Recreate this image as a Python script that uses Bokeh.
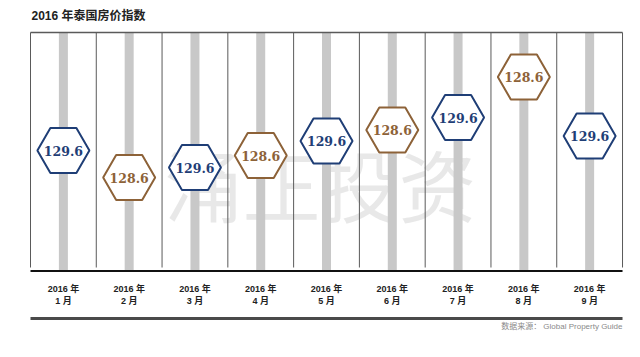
from bokeh.plotting import figure
from bokeh.models import Range1d, ColumnDataSource
from bokeh.core.properties import value
from bokeh.embed import file_html
from bokeh.resources import INLINE

# ---- data ----
title_text = "2016 年泰国房价指数"
year_labels = ["2016 年"] * 9
month_labels = ["1 月", "2 月", "3 月", "4 月", "5 月", "6 月", "7 月", "8 月", "9 月"]
month_num = [1, 2, 3, 4, 5, 6, 7, 8, 9]
index_level = [128.40, 127.86, 128.06, 128.30, 128.59, 128.81, 129.06, 129.87, 128.69]
hex_labels = ["129.6", "128.6", "129.6", "128.6", "129.6", "128.6", "129.6", "128.6", "129.6"]
source_text = "数据来源： Global Property Guide"
watermark_text = "涌正投资"

# ---- styling ----
BLUE = "#1f3e76"
BROWN = "#8d6238"
hex_colors = [BLUE if i % 2 == 0 else BROWN for i in range(9)]

W, H = 624, 341
PXU = 65.78          # pixels per month
YPX = 50.0           # pixels per index point
X0 = 0.5 - 30 / PXU
X1 = X0 + W / PXU
Y_TOP = 126 + 270 / YPX
Y_BOT = Y_TOP - H / YPX


def fx(px):
    return X0 + px / PXU


def fy(py):
    return Y_TOP - py / YPX


p = figure(width=W, height=H, output_backend="svg", toolbar_location=None,
           x_range=Range1d(X0, X1), y_range=Range1d(Y_BOT, Y_TOP),
           x_axis_type=None, y_axis_type=None, min_border=0,
           outline_line_color=None, background_fill_color="white",
           border_fill_color="white")
p.xgrid.visible = False
p.ygrid.visible = False

CJK_SANS = value("'Liberation Sans', 'Noto Sans CJK SC', sans-serif")

y_top = fy(32)
y_base = fy(270.5)

# watermark
p.text(x=[fx(320)], y=[fy(182)], text=[watermark_text], text_font=value("'Noto Sans CJK SC'"),
       text_font_size="78px", text_color="#b8b8b8", text_alpha=0.32,
       text_align="center", text_baseline="middle", text_font_style="normal")

# grey stems
p.segment(x0=month_num, x1=month_num, y0=[y_base] * 9, y1=[y_top] * 9,
          line_width=9, line_color="#c8c8c8")

# column separators
seps = [m - 0.5 for m in month_num] + [month_num[-1] + 0.5]
p.segment(x0=seps, x1=seps, y0=[fy(267)] * len(seps), y1=[y_top] * len(seps),
          line_width=1, line_color="#5a5a5a")
# top border
p.segment(x0=[seps[0]], x1=[seps[-1]], y0=[y_top], y1=[y_top],
          line_width=1.3, line_color="#5a5a5a")
# baseline
p.segment(x0=[seps[0]], x1=[seps[-1]], y0=[y_base], y1=[y_base],
          line_width=2, line_color="#111111")
# bottom thick rule
p.segment(x0=[seps[0]], x1=[seps[-1]], y0=[fy(318)], y1=[fy(318)],
          line_width=3, line_color="#4a4a4a")

# hexagons
src = ColumnDataSource(dict(x=month_num, y=index_level, lab=hex_labels, c=hex_colors))
p.scatter(x="x", y="y", source=src, marker="hex", size=52,
          fill_color="white", line_color="c", line_width=2)
p.text(x="x", y="y", text="lab", source=src, text_color="c",
       text_font=value("DejaVu Serif"), text_font_size="12.5px",
       text_font_style="bold", text_align="center", text_baseline="middle")

# month labels
p.text(x=month_num, y=[fy(288)] * 9, text=year_labels, text_font=CJK_SANS,
       text_font_size="9px", text_font_style="bold", text_color="#222222",
       text_align="center", text_baseline="middle")
p.text(x=month_num, y=[fy(300)] * 9, text=month_labels, text_font=CJK_SANS,
       text_font_size="9px", text_font_style="bold", text_color="#222222",
       text_align="center", text_baseline="middle")

# title
p.text(x=[fx(31)], y=[fy(15)], text=[title_text], text_font=CJK_SANS,
       text_font_size="12px", text_font_style="bold", text_color="#222222",
       text_align="left", text_baseline="middle")

# source
p.text(x=[fx(622)], y=[fy(326)], text=[source_text], text_font=CJK_SANS,
       text_font_size="8px", text_color="#8a8a8a",
       text_align="right", text_baseline="middle")

open("out.html", "w").write(file_html(p, INLINE))
